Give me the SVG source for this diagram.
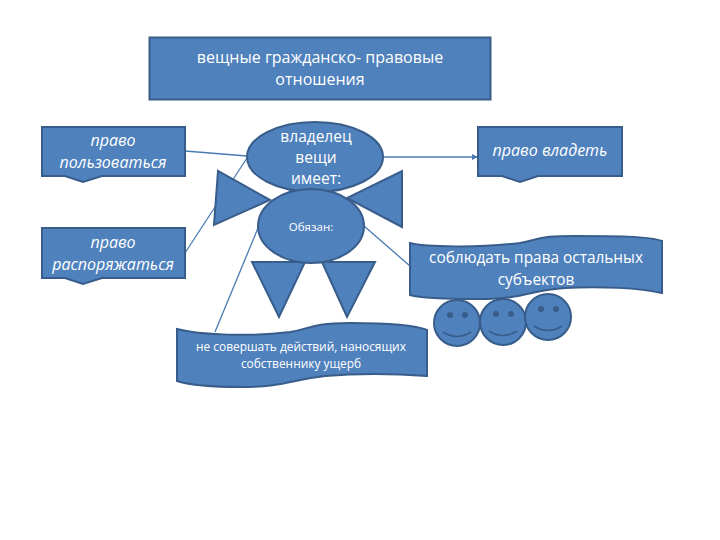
<svg xmlns="http://www.w3.org/2000/svg" width="720" height="540" viewBox="0 0 720 540">
<style>
.s{fill:#4f81bd;stroke:#385d8a;stroke-width:2}
.c{fill:none;stroke:#4a7ab2;stroke-width:1.3}
.t{fill:#fff;font-family:"Open Sans","Liberation Sans",sans-serif;text-anchor:middle}
.i{font-style:italic;font-size:16px}
.f{fill:none;stroke:#385d8a;stroke-width:1.5}
.e{fill:#385d8a}
</style>
<defs>
<marker id="a" markerWidth="6" markerHeight="6" refX="5" refY="3" orient="auto"><path d="M0 0.5L5 3L0 5.5Z" fill="#4a7ab2"/></marker>
<g id="smile"><circle class="s" r="23"/><circle class="e" cx="-7" cy="-8" r="3"/><circle class="e" cx="8" cy="-8" r="3"/><path class="f" d="M-14 9Q0 18 14 9"/></g>
</defs>
<rect width="720" height="540" fill="#fff"/>
<g id="connectors">
<path class="c" d="M185 151L247 156"/>
<path class="c" d="M185 253L247 158"/>
<path class="c" d="M258 228L215 332"/>
<path class="c" d="M364 226L410 266"/>
<path class="c" d="M383 157L478 157" marker-end="url(#a)"/>
</g>
<g id="title"><rect class="s" x="149.500" y="37.500" width="341" height="62"/>
<text class="t" font-size="16" x="320" y="63">вещные гражданско- правовые</text>
<text class="t" font-size="16" x="320" y="85">отношения</text></g>
<g id="pravo-polzovatsya"><path class="s" d="M42 127H185V176H102L83 182L65 176H42Z"/>
<text class="t i" x="113" y="146">право</text><text class="t i" x="113" y="168">пользоваться</text></g>
<g id="pravo-rasporyazhatsya"><path class="s" d="M42 228H185V278H102L83 284L65 278H42Z"/>
<text class="t i" x="113" y="248">право</text><text class="t i" x="113" y="270">распоряжаться</text></g>
<g id="pravo-vladet"><path class="s" d="M478 127H622V176H538L520 182L502 176H478Z"/>
<text class="t i" x="550" y="156">право владеть</text></g>
<g id="triangles">
<path class="s" d="M218 171L214 225L270 200Z"/>
<path class="s" d="M402 171L402 227L347 198Z"/>
<path class="s" d="M252 262H305L279 317Z"/>
<path class="s" d="M322 262H375L347 317Z"/>
</g>
<g id="vladelec"><ellipse class="s" cx="315" cy="157" rx="68" ry="35"/>
<text class="t" font-size="15.500" x="316" y="142">владелец</text><text class="t" font-size="15.500" x="316" y="163">вещи</text><text class="t" font-size="15.500" x="316" y="184">имеет:</text></g>
<g id="obyazan"><ellipse class="s" cx="311" cy="226" rx="53" ry="37"/>
<text class="t" font-size="11.500" x="311" y="231">Обязан:</text></g>
<g id="smiles">
<use href="#smile" x="457" y="323"/>
<use href="#smile" x="503" y="322"/>
<use href="#smile" x="548" y="317"/>
</g>
<g id="ne-sovershat"><path class="s" d="M177 329C200 335 250 337 290 332C310 329 310 323 350 323C385 323 415 325 427 330V376C400 374 360 373 325 376C290 380 285 387 240 387C210 387 190 385 177 381Z"/>
<text class="t" font-size="11.900" x="301" y="351">не совершать действий, наносящих</text>
<text class="t" font-size="11.900" x="301" y="368">собственнику ущерб</text></g>
<g id="soblyudat"><path class="s" d="M410 243C425 247 480 248 520 243C545 238 540 236 575 236C610 236 650 236 662 241V293C640 288 600 286 565 288C530 290 525 299 480 299C445 299 420 298 410 295Z"/>
<text class="t" font-size="15.400" x="536" y="263">соблюдать права остальных</text>
<text class="t" font-size="15.400" x="536" y="285">субъектов</text></g>
</svg>
